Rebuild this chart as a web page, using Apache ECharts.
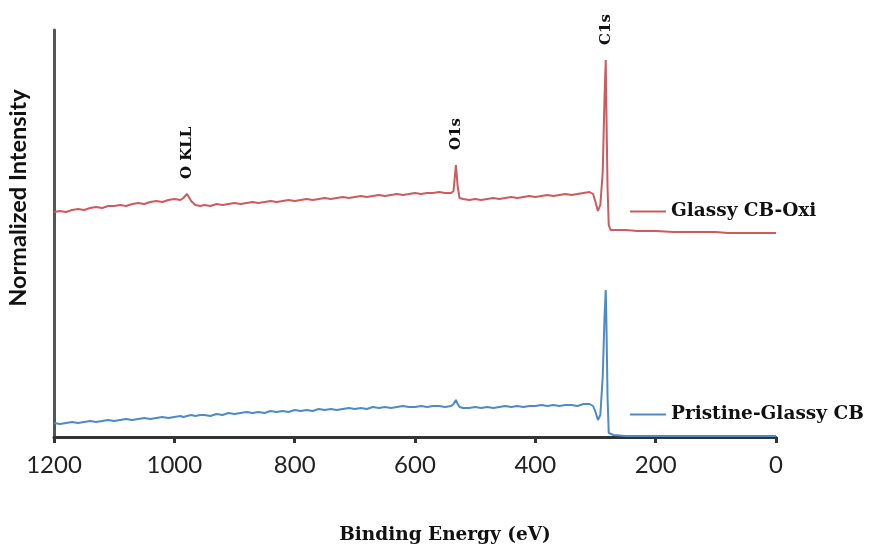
<!DOCTYPE html>
<html>
<head>
<meta charset="utf-8">
<script src="https://cdn.jsdelivr.net/npm/echarts@6/dist/echarts.min.js"></script>
<style>
  html, body { margin: 0; padding: 0; background: #fff; }
  #chart { width: 871px; height: 549px; }
</style>
</head>
<body>
<div id="chart"></div>
<script>
// binding energy (eV), shared by both spectra
var energy = [
  1200,1190,1180,1170,1160,1150,1140,1130,1120,1110,1100,1090,1080,1070,1060,1050,1040,1030,1020,1010,1000,
  990,985,979,972,965,957,950,
  940,930,920,910,900,890,880,870,860,850,840,830,820,810,800,790,780,770,760,750,
  740,730,720,710,700,690,680,670,660,650,640,630,620,610,600,590,580,570,560,550,540,
  536,532,529,526,520,
  510,500,490,480,470,460,450,440,430,420,410,400,390,380,370,360,350,340,330,320,310,
  304,300,296,292,288,285,283,282,280,278,275,270,250,230,200,170,150,120,100,80,50,30,0
];

// arbitrary units (offset spectrum)
var oxiIntensity = [
  225,226,225,227,228,227,229,230,229,231,231,232,231,233,234,233,235,236,235,237,238,
  237,239,243,236,232,231,232,
  231,233,232,233,234,233,234,235,234,235,236,235,236,237,236,237,238,237,238,239,
  238,239,240,239,240,241,240,241,242,241,242,243,242,243,244,243,244,244,245,244,244,
  246,272,250,239,238,
  237,238,237,238,239,238,239,240,239,240,241,240,241,242,241,242,243,242,243,244,245,
  243,235,226,232,265,340,377,330,250,212,207,207,207,206,206,205,205,205,205,204,204,204,204
];

var pristineIntensity = [
  14,13,14,15,14,15,16,15,16,17,16,17,18,17,18,19,18,19,20,19,20,
  21,20,21,22,21,22,22,
  21,23,22,24,23,24,25,24,25,24,26,25,26,25,27,26,27,26,28,27,
  28,27,28,29,28,29,28,30,29,30,29,30,31,30,30,31,30,31,31,30,31,
  33,37,33,30,29,
  29,30,29,30,29,30,31,30,31,30,31,31,32,31,32,31,32,32,31,33,33,
  31,25,17,22,60,120,147,120,40,4,2,2,1,1,1,1,1,1,1,1,1,1,1
];

var xTicks = [1200, 1000, 800, 600, 400, 200, 0];

// peak labels: [text, energy, intensity on oxidised curve]
var peakNames = ['O KLL', 'O1s', 'C1s'];
var peakEnergy = [979, 532, 283];
var peakHeight = [243, 272, 377];

function pairs(ys) {
  return energy.map(function (e, i) { return [e, ys[i]]; });
}

var chart = echarts.init(document.getElementById('chart'));

var legendText = { fontFamily: 'DejaVu Serif', fontWeight: 'bold', fontSize: 18.5, color: '#111' };

var option = {
  animation: false,
  backgroundColor: '#fff',
  grid: { left: 54, right: 95, top: 30, bottom: 112 },
  legend: [{
    data: ['Glassy CB-Oxi'],
    left: 625, top: 197,
    icon: 'rect', itemWidth: 36, itemHeight: 2,
    textStyle: legendText
  }, {
    data: ['Pristine-Glassy CB'],
    left: 625, top: 400,
    icon: 'rect', itemWidth: 36, itemHeight: 2,
    textStyle: legendText
  }],
  xAxis: {
    type: 'value',
    inverse: true,
    min: 0, max: 1200, interval: 200,
    splitLine: { show: false },
    axisLine: { onZero: false, lineStyle: { color: '#333', width: 3 } },
    axisTick: { length: 6, lineStyle: { color: '#333', width: 3 } },
    axisLabel: {
      margin: 16, fontFamily: 'Lato', fontSize: 24, color: '#222',
      showMinLabel: true, showMaxLabel: true,
      formatter: function (v) { return xTicks.indexOf(v) >= 0 ? String(v) : ''; }
    }
  },
  yAxis: {
    type: 'value',
    min: 0, max: 407,
    splitLine: { show: false },
    axisLine: { show: true, onZero: false, lineStyle: { color: '#555', width: 3 } },
    axisTick: { show: false },
    axisLabel: { show: false }
  },
  series: [{
    name: 'Glassy CB-Oxi',
    type: 'line',
    data: pairs(oxiIntensity),
    symbol: 'none',
    color: '#cf5a5e',
    lineStyle: { width: 2, color: '#cf5a5e' }
  }, {
    name: 'Pristine-Glassy CB',
    type: 'line',
    data: pairs(pristineIntensity),
    symbol: 'none',
    color: '#4d8bc6',
    lineStyle: { width: 2, color: '#4d8bc6' }
  }]
};

chart.setOption(option);

// titles and peak annotations placed after the axes are laid out
var graphics = [{
  type: 'text',
  x: 18, y: 198,
  rotation: Math.PI / 2,
  style: {
    text: 'Normalized Intensity', fontFamily: 'Lato', fontWeight: 'bold', fontSize: 23.5,
    fill: '#111', align: 'center', verticalAlign: 'middle'
  }
}, {
  type: 'text',
  x: 445, y: 535,
  style: {
    text: 'Binding Energy (eV)', fontFamily: 'DejaVu Serif', fontWeight: 'bold', fontSize: 18.5,
    fill: '#111', align: 'center', verticalAlign: 'middle'
  }
}];

peakNames.forEach(function (name, i) {
  var p = chart.convertToPixel({ gridIndex: 0 }, [peakEnergy[i], peakHeight[i]]);
  graphics.push({
    type: 'text',
    x: p[0], y: p[1] - 15,
    rotation: Math.PI / 2,
    style: {
      text: name, fontFamily: 'DejaVu Serif', fontWeight: 'bold', fontSize: 15,
      fill: '#111', align: 'left', verticalAlign: 'middle'
    }
  });
});

chart.setOption({ graphic: graphics });
</script>
</body>
</html>
